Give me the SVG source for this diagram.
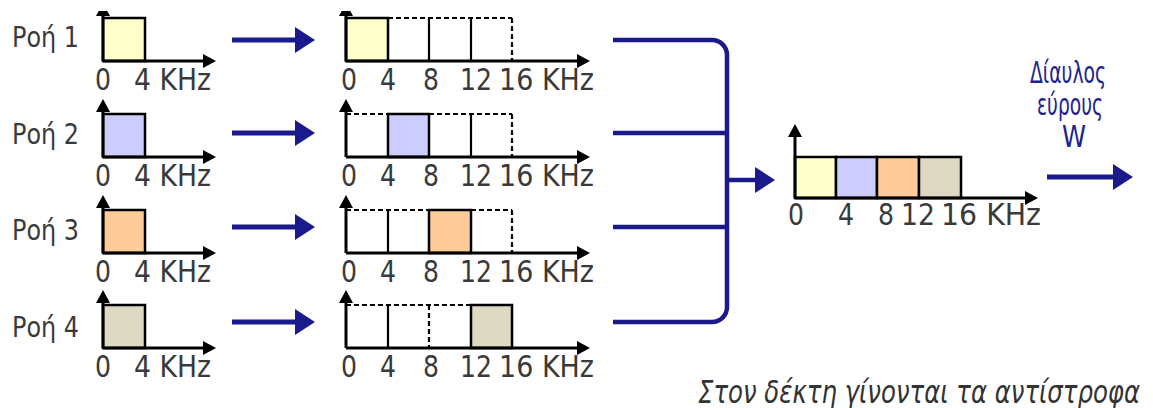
<svg xmlns="http://www.w3.org/2000/svg" width="1153" height="408" viewBox="0 0 1153 408">
  <defs>
    <style>
      .lbl { font-family: "DejaVu Sans", "Liberation Sans", sans-serif; font-size: 30px; fill: #3a3a3a; }
      .flow { font-family: "DejaVu Sans", "Liberation Sans", sans-serif; font-size: 29px; fill: #3a3a3a; }
      .chan { font-family: "DejaVu Sans", "Liberation Sans", sans-serif; font-size: 31px; fill: #23238e; }
      .note { font-family: "DejaVu Sans", "Liberation Sans", sans-serif; font-size: 31px; font-style: italic; fill: #333333; }
      .axis { stroke: #000; stroke-width: 3; fill: none; }
      .box { stroke: #000; stroke-width: 2.5; }
      .sep { stroke: #000; stroke-width: 2.2; fill: none; }
      .dash { stroke: #000; stroke-width: 2.2; fill: none; stroke-dasharray: 5 3; }
      .blue { stroke: #1a1a8c; stroke-width: 5; fill: none; }
      .bracket { stroke: #1a1a8c; stroke-width: 4.5; fill: none; }
      .c1 { fill: #ffffcc; }
      .c2 { fill: #ccccff; }
      .c3 { fill: #ffcc99; }
      .c4 { fill: #ddd9c3; }
    </style>
    <marker id="ax" markerUnits="userSpaceOnUse" markerWidth="14" markerHeight="14" refX="2" refY="7" orient="auto">
      <path d="M0,0 L13,7 L0,14 z" fill="#000"/>
    </marker>
    <marker id="bl" markerUnits="userSpaceOnUse" markerWidth="20" markerHeight="26" refX="2" refY="13" orient="auto">
      <path d="M0,0 L20,13 L0,26 z" fill="#1a1a8c"/>
    </marker>
    <clipPath id="topcut">
      <rect x="0" y="11" width="1153" height="397"/>
    </clipPath>
  </defs>

  <rect width="1153" height="408" fill="#fff"/>

  <!-- flow 1: input spectrum -->
  <g id="flow1">
    <text class="flow" x="12" y="47" textLength="67" lengthAdjust="spacingAndGlyphs">Ροή 1</text>
    <rect class="box c1" x="103" y="18" width="42" height="43"/>
    <line class="axis" x1="103" y1="61" x2="103" y2="14" marker-end="url(#ax)" clip-path="url(#topcut)"/>
    <line class="axis" x1="103" y1="61" x2="205" y2="61" marker-end="url(#ax)"/>
    <text class="lbl" x="95" y="90" textLength="16" lengthAdjust="spacingAndGlyphs">0</text>
    <text class="lbl" x="134" y="90" textLength="77" lengthAdjust="spacingAndGlyphs">4 KHz</text>
  </g>

  <!-- flow 2: input spectrum -->
  <g id="flow2">
    <text class="flow" x="12" y="144" textLength="67" lengthAdjust="spacingAndGlyphs">Ροή 2</text>
    <rect class="box c2" x="103" y="114" width="42" height="43"/>
    <line class="axis" x1="103" y1="157" x2="103" y2="110" marker-end="url(#ax)"/>
    <line class="axis" x1="103" y1="157" x2="205" y2="157" marker-end="url(#ax)"/>
    <text class="lbl" x="95" y="186" textLength="16" lengthAdjust="spacingAndGlyphs">0</text>
    <text class="lbl" x="134" y="186" textLength="77" lengthAdjust="spacingAndGlyphs">4 KHz</text>
  </g>

  <!-- flow 3: input spectrum -->
  <g id="flow3">
    <text class="flow" x="12" y="240" textLength="67" lengthAdjust="spacingAndGlyphs">Ροή 3</text>
    <rect class="box c3" x="103" y="210" width="42" height="43"/>
    <line class="axis" x1="103" y1="253" x2="103" y2="206" marker-end="url(#ax)"/>
    <line class="axis" x1="103" y1="253" x2="205" y2="253" marker-end="url(#ax)"/>
    <text class="lbl" x="95" y="282" textLength="16" lengthAdjust="spacingAndGlyphs">0</text>
    <text class="lbl" x="134" y="282" textLength="77" lengthAdjust="spacingAndGlyphs">4 KHz</text>
  </g>

  <!-- flow 4: input spectrum -->
  <g id="flow4">
    <text class="flow" x="12" y="337" textLength="67" lengthAdjust="spacingAndGlyphs">Ροή 4</text>
    <rect class="box c4" x="103" y="305" width="42" height="43"/>
    <line class="axis" x1="103" y1="348" x2="103" y2="301" marker-end="url(#ax)"/>
    <line class="axis" x1="103" y1="348" x2="205" y2="348" marker-end="url(#ax)"/>
    <text class="lbl" x="95" y="377" textLength="16" lengthAdjust="spacingAndGlyphs">0</text>
    <text class="lbl" x="134" y="377" textLength="77" lengthAdjust="spacingAndGlyphs">4 KHz</text>
  </g>

  <!-- flow 1 shifted to 0-4 KHz -->
  <g id="shift1">
    <rect class="box c1" x="346" y="18" width="42" height="43"/>
    <path class="dash" d="M388,18 H512 M512,18 V61"/>
    <path class="sep" d="M429,18 V61 M471,18 V61"/>
    <line class="axis" x1="346" y1="61" x2="346" y2="14" marker-end="url(#ax)" clip-path="url(#topcut)"/>
    <line class="axis" x1="346" y1="61" x2="579" y2="61" marker-end="url(#ax)"/>
    <text class="lbl" x="341" y="90" textLength="16" lengthAdjust="spacingAndGlyphs">0</text>
    <text class="lbl" x="380" y="90" textLength="16" lengthAdjust="spacingAndGlyphs">4</text>
    <text class="lbl" x="423" y="90" textLength="16" lengthAdjust="spacingAndGlyphs">8</text>
    <text class="lbl" x="460" y="90" textLength="32" lengthAdjust="spacingAndGlyphs">12</text>
    <text class="lbl" x="499" y="90" textLength="95" lengthAdjust="spacingAndGlyphs">16 KHz</text>
  </g>

  <!-- flow 2 shifted to 4-8 KHz -->
  <g id="shift2">
    <rect class="box c2" x="388" y="114" width="41" height="43"/>
    <path class="dash" d="M346,114 H388 M429,114 H512 M512,114 V157"/>
    <path class="sep" d="M471,114 V157"/>
    <line class="axis" x1="346" y1="157" x2="346" y2="110" marker-end="url(#ax)"/>
    <line class="axis" x1="346" y1="157" x2="579" y2="157" marker-end="url(#ax)"/>
    <text class="lbl" x="341" y="186" textLength="16" lengthAdjust="spacingAndGlyphs">0</text>
    <text class="lbl" x="380" y="186" textLength="16" lengthAdjust="spacingAndGlyphs">4</text>
    <text class="lbl" x="423" y="186" textLength="16" lengthAdjust="spacingAndGlyphs">8</text>
    <text class="lbl" x="460" y="186" textLength="32" lengthAdjust="spacingAndGlyphs">12</text>
    <text class="lbl" x="499" y="186" textLength="95" lengthAdjust="spacingAndGlyphs">16 KHz</text>
  </g>

  <!-- flow 3 shifted to 8-12 KHz -->
  <g id="shift3">
    <rect class="box c3" x="429" y="210" width="42" height="43"/>
    <path class="dash" d="M346,210 H429 M471,210 H512 M512,210 V253"/>
    <path class="sep" d="M388,210 V253"/>
    <line class="axis" x1="346" y1="253" x2="346" y2="206" marker-end="url(#ax)"/>
    <line class="axis" x1="346" y1="253" x2="579" y2="253" marker-end="url(#ax)"/>
    <text class="lbl" x="341" y="282" textLength="16" lengthAdjust="spacingAndGlyphs">0</text>
    <text class="lbl" x="380" y="282" textLength="16" lengthAdjust="spacingAndGlyphs">4</text>
    <text class="lbl" x="423" y="282" textLength="16" lengthAdjust="spacingAndGlyphs">8</text>
    <text class="lbl" x="460" y="282" textLength="32" lengthAdjust="spacingAndGlyphs">12</text>
    <text class="lbl" x="499" y="282" textLength="95" lengthAdjust="spacingAndGlyphs">16 KHz</text>
  </g>

  <!-- flow 4 shifted to 12-16 KHz -->
  <g id="shift4">
    <rect class="box c4" x="471" y="305" width="41" height="43"/>
    <path class="dash" d="M346,305 H471 M429,305 V348"/>
    <path class="sep" d="M388,305 V348"/>
    <line class="axis" x1="346" y1="348" x2="346" y2="301" marker-end="url(#ax)"/>
    <line class="axis" x1="346" y1="348" x2="579" y2="348" marker-end="url(#ax)"/>
    <text class="lbl" x="341" y="377" textLength="16" lengthAdjust="spacingAndGlyphs">0</text>
    <text class="lbl" x="380" y="377" textLength="16" lengthAdjust="spacingAndGlyphs">4</text>
    <text class="lbl" x="423" y="377" textLength="16" lengthAdjust="spacingAndGlyphs">8</text>
    <text class="lbl" x="460" y="377" textLength="32" lengthAdjust="spacingAndGlyphs">12</text>
    <text class="lbl" x="499" y="377" textLength="95" lengthAdjust="spacingAndGlyphs">16 KHz</text>
  </g>

  <!-- combined spectrum on the shared channel -->
  <g id="combined">
    <rect class="box c1" x="795" y="157" width="41" height="41"/>
    <rect class="box c2" x="836" y="157" width="41" height="41"/>
    <rect class="box c3" x="877" y="157" width="42" height="41"/>
    <rect class="box c4" x="919" y="157" width="42" height="41"/>
    <line class="axis" x1="795" y1="198" x2="795" y2="135" marker-end="url(#ax)"/>
    <line class="axis" x1="795" y1="198" x2="1027" y2="198" marker-end="url(#ax)"/>
    <text class="lbl" x="788" y="225" textLength="16" lengthAdjust="spacingAndGlyphs">0</text>
    <text class="lbl" x="838" y="225" textLength="16" lengthAdjust="spacingAndGlyphs">4</text>
    <text class="lbl" x="878" y="225" textLength="16" lengthAdjust="spacingAndGlyphs">8</text>
    <text class="lbl" x="901" y="225" textLength="34" lengthAdjust="spacingAndGlyphs">12</text>
    <text class="lbl" x="941" y="225" textLength="100" lengthAdjust="spacingAndGlyphs">16 KHz</text>
  </g>

  <!-- channel label -->
  <g id="channel">
    <text class="chan" x="1068" y="83" text-anchor="middle" textLength="76" lengthAdjust="spacingAndGlyphs">Δίαυλος</text>
    <text class="chan" x="1070" y="115" text-anchor="middle" textLength="66" lengthAdjust="spacingAndGlyphs">εύρους</text>
    <text class="chan" x="1074" y="147" text-anchor="middle" textLength="24" lengthAdjust="spacingAndGlyphs">W</text>
  </g>

  <!-- receiver note -->
  <g id="note">
    <text class="note" x="698" y="403" textLength="442" lengthAdjust="spacingAndGlyphs">Στον δέκτη γίνονται τα αντίστροφα</text>
  </g>

  <!-- connectors -->
  <g id="connectors">
    <line class="blue" x1="232" y1="40" x2="297" y2="40" marker-end="url(#bl)"/>
    <line class="blue" x1="232" y1="133" x2="297" y2="133" marker-end="url(#bl)"/>
    <line class="blue" x1="232" y1="227" x2="297" y2="227" marker-end="url(#bl)"/>
    <line class="blue" x1="232" y1="322" x2="297" y2="322" marker-end="url(#bl)"/>
    <path class="bracket" d="M613,40 H712 A15,15 0 0 1 727,55 V307 A15,15 0 0 1 712,322 H613 M613,133 H727 M613,227 H727"/>
    <line class="bracket" x1="727" y1="180" x2="757" y2="180" marker-end="url(#bl)"/>
    <line class="blue" x1="1047" y1="177" x2="1115" y2="177" marker-end="url(#bl)"/>
  </g>
</svg>
